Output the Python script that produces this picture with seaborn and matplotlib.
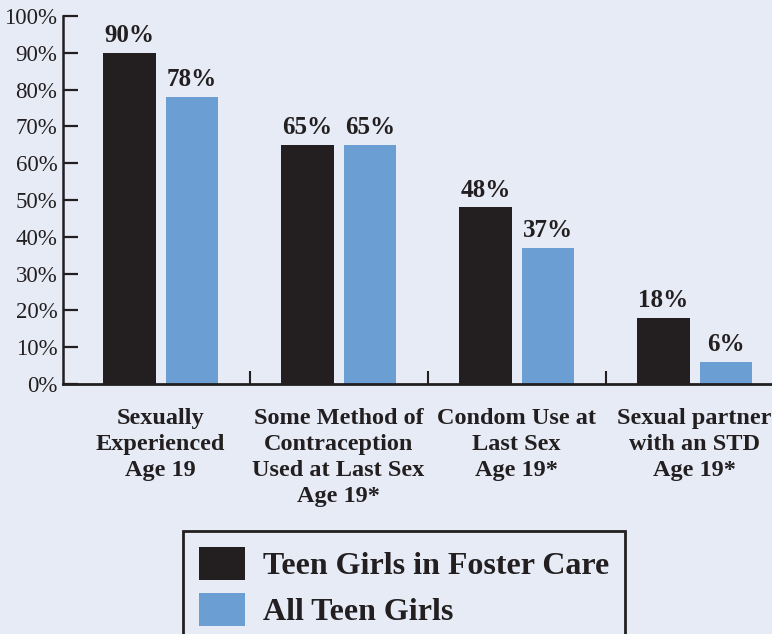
import pandas as pd
import matplotlib.pyplot as plt
import seaborn as sns
from matplotlib.patches import Patch

# chart data
categories = [
    'Sexually\nExperienced\nAge 19',
    'Some Method of\nContraception\nUsed at Last Sex\nAge 19*',
    'Condom Use at\nLast Sex\nAge 19*',
    'Sexual partner\nwith an STD\nAge 19*',
]
foster_care = [90, 65, 48, 18]
all_teens = [78, 65, 37, 6]
groups = ['Teen Girls in Foster Care', 'All Teen Girls']
y_ticks = [0, 10, 20, 30, 40, 50, 60, 70, 80, 90, 100]

dark = '#231f20'
blue = '#6b9fd4'
bg = '#e6ebf6'

df = pd.DataFrame({
    'Category': categories * 2,
    'Value': foster_care + all_teens,
    'Group': [groups[0]] * 4 + [groups[1]] * 4,
})

sns.set_style('ticks')
plt.rcParams['font.family'] = ['Liberation Serif', 'DejaVu Serif']
plt.rcParams['text.color'] = dark
plt.rcParams['axes.edgecolor'] = dark
plt.rcParams['xtick.color'] = dark
plt.rcParams['ytick.color'] = dark

fig = plt.figure(figsize=(7.72, 6.34), dpi=100, facecolor=bg)
ax = fig.add_axes([0.0816, 0.3943, 0.9184, 0.5804])
ax.set_facecolor(bg)

sns.barplot(data=df, x='Category', y='Value', hue='Group',
            palette=[dark, blue], saturation=1, width=0.7, gap=0.16,
            linewidth=0, edgecolor='none',
            order=categories, hue_order=groups, legend=False, ax=ax)

for cont in ax.containers:
    ax.bar_label(cont, fmt='%d%%', padding=4, fontsize=18,
                 fontweight='bold', color=dark)

ax.set_xlim(-0.548, 3.435)
ax.set_ylim(0, 100)
ax.set_yticks(y_ticks)
ax.set_yticklabels([f'{v}%' for v in y_ticks], fontsize=16.5)
ax.set_xticks(range(len(categories)))
ax.set_xticklabels(categories, fontsize=17.5, fontweight='bold', linespacing=1.32,
                   va='top')
ax.set_xticks([0.5, 1.5, 2.5], minor=True)
ax.tick_params(axis='y', direction='in', length=11, width=1.6, pad=4)
ax.tick_params(axis='x', which='major', length=0, pad=17)
ax.tick_params(axis='x', which='minor', direction='in', length=9.5, width=1.5)
ax.set_xlabel('')
ax.set_ylabel('')

for side in ['top', 'right']:
    ax.spines[side].set_visible(False)
ax.spines['left'].set_linewidth(1.8)
ax.spines['bottom'].set_linewidth(2.0)

handles = [Patch(facecolor=dark, edgecolor='none'), Patch(facecolor=blue, edgecolor='none')]
leg = fig.legend(handles, groups, loc='upper left', bbox_to_anchor=(0.237, 0.163),
                 borderaxespad=0, frameon=True, fancybox=False,
                 prop={'family': 'Liberation Serif', 'weight': 'bold', 'size': 23},
                 handlelength=1.44, handleheight=1.22, handletextpad=0.55,
                 labelspacing=0.37, borderpad=0.5)
leg.get_frame().set_edgecolor(dark)
leg.get_frame().set_linewidth(2)
leg.get_frame().set_facecolor(bg)
leg.get_frame().set_alpha(1)

fig.savefig('out.png', dpi=100, facecolor=bg)
